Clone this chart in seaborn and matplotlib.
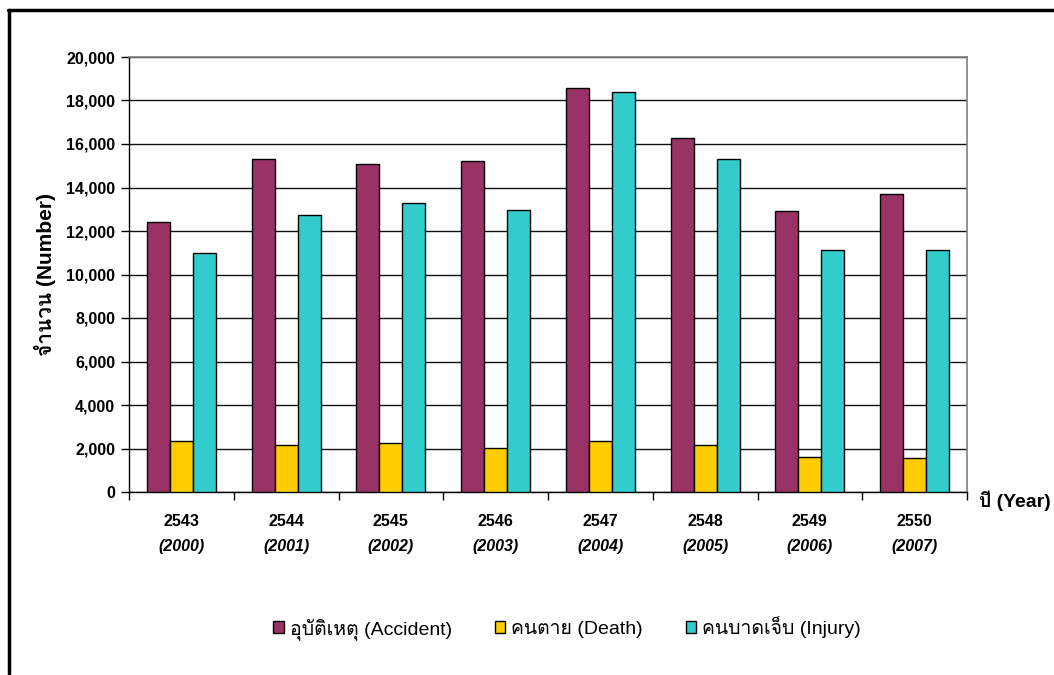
import numpy as np
import pandas as pd
import seaborn as sns
import matplotlib
matplotlib.use("Agg")
import matplotlib.pyplot as plt
from matplotlib import font_manager
from matplotlib.lines import Line2D
from matplotlib.ticker import FuncFormatter, FixedLocator

# Road accidents by year (Thai Buddhist era with Gregorian year)
years_be = ["2543", "2544", "2545", "2546", "2547", "2548", "2549", "2550"]
years_ce = ["(2000)", "(2001)", "(2002)", "(2003)", "(2004)", "(2005)", "(2006)", "(2007)"]
accident = [12400, 15330, 15070, 15210, 18560, 16280, 12920, 13690]
death = [2340, 2180, 2260, 2010, 2340, 2140, 1630, 1550]
injury = [11000, 12730, 13290, 12980, 18370, 15330, 11140, 11140]
series_names = ["อุบัติเหตุ (Accident)", "คนตาย (Death)", "คนบาดเจ็บ (Injury)"]
series_colors = ["#993366", "#FFCC00", "#33CCCC"]


def family_with(char):
    """Return the first installed family whose cmap covers `char`."""
    try:
        from fontTools.ttLib import TTFont
    except Exception:
        return None
    cp = ord(char)
    seen = set()
    for f in font_manager.fontManager.ttflist:
        if f.fname in seen:
            continue
        seen.add(f.fname)
        try:
            tt = TTFont(f.fname, fontNumber=0, lazy=True)
            cmap = tt.getBestCmap()
            if cmap and cp in cmap:
                return f.name
        except Exception:
            continue
    return None


sns.set_theme(style="white")
families = ["Liberation Sans"]
thai = family_with("ค")
if thai:
    families.append(thai)
families.append("DejaVu Sans")
plt.rcParams["font.family"] = families
plt.rcParams["text.color"] = "black"
plt.rcParams["axes.labelcolor"] = "black"
plt.rcParams["xtick.color"] = "black"
plt.rcParams["ytick.color"] = "black"

df = pd.DataFrame({
    "year": years_be * 3,
    "value": accident + death + injury,
    "series": [series_names[0]] * 8 + [series_names[1]] * 8 + [series_names[2]] * 8,
})

fig = plt.figure(figsize=(10.54, 6.75), dpi=100)
ax = fig.add_axes([129 / 1054, 1 - 492 / 675, (967 - 129) / 1054, (492 - 57) / 675])

sns.barplot(data=df, x="year", y="value", hue="series", order=years_be,
            hue_order=series_names, palette=series_colors, width=0.66,
            edgecolor="black", linewidth=1.0, saturation=1, ax=ax, zorder=3)

ax.set_ylim(0, 20000)
ax.set_xlim(-0.5, 7.5)
ax.yaxis.set_major_locator(FixedLocator(np.arange(0, 20001, 2000)))
ax.yaxis.set_major_formatter(FuncFormatter(lambda v, p: f"{int(v):,}"))
ax.grid(axis="y", color="#111111", linewidth=1.0, zorder=0)
ax.set_axisbelow(True)

for side in ["top", "right"]:
    ax.spines[side].set_color("#7f7f7f")
    ax.spines[side].set_linewidth(1.2)
for side in ["left", "bottom"]:
    ax.spines[side].set_color("#000000")
    ax.spines[side].set_linewidth(1.0)

# category boundaries carry the tick marks, centres carry the labels
ax.set_xticks(np.arange(-0.5, 8, 1.0))
ax.set_xticklabels([])
ax.set_xticks(np.arange(len(years_be)), minor=True)
ax.set_xticklabels(years_be, minor=True, fontweight="bold", fontsize=11.5)
ax.tick_params(axis="x", which="major", direction="out", length=6, width=1, bottom=True)
ax.tick_params(axis="x", which="minor", length=0, pad=16)
ax.tick_params(axis="y", direction="out", length=6, width=1, left=True, pad=4)
for lbl in ax.get_yticklabels():
    lbl.set_fontweight("bold")
    lbl.set_fontsize(11.5)

for i, ce in enumerate(years_ce):
    ax.text(i, -(546.5 - 492) / 435, ce, transform=ax.get_xaxis_transform(),
            ha="center", va="center", fontsize=11.5, fontweight="bold", fontstyle="italic")

ax.set_xlabel("")
ax.set_ylabel("จำนวน (Number)", fontsize=15, fontweight="bold")
ax.yaxis.label.set_va("center")
ax.yaxis.set_label_coords((45 - 129) / 838, 0.5)
fig.text(979 / 1054, 1 - 501 / 675, "ปี (Year)", ha="left", va="center",
         fontsize=14, fontweight="bold")

handles, labels = ax.get_legend_handles_labels()
if ax.get_legend() is not None:
    ax.get_legend().remove()
fig.legend(handles, labels, loc="center", bbox_to_anchor=(567 / 1054, 1 - 628 / 675),
           ncol=3, frameon=False, fontsize=14, handlelength=0.55, handleheight=0.55,
           handletextpad=0.3, columnspacing=2.2)

# outer frame of the chart area
fig.add_artist(Line2D([8 / 1054, 1.0], [1 - 10 / 675] * 2, transform=fig.transFigure,
                      color="black", linewidth=2.5))
fig.add_artist(Line2D([9 / 1054] * 2, [1 - 10 / 675, 1 - 674 / 675], transform=fig.transFigure,
                      color="black", linewidth=2.5))

fig.savefig("out.png", dpi=100, facecolor="white")
